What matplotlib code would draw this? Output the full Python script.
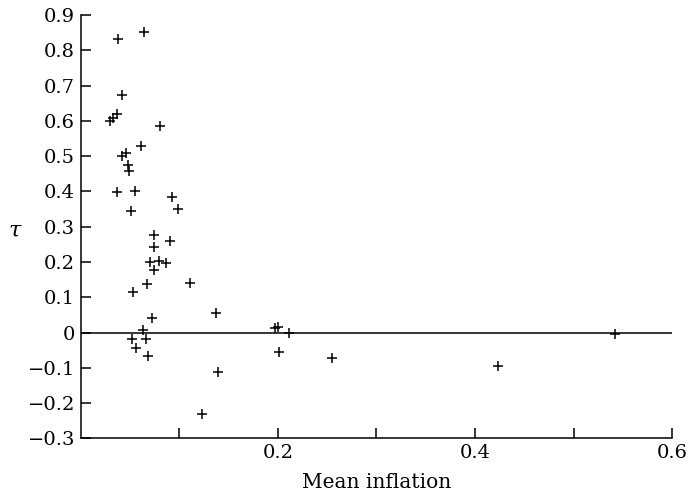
import matplotlib.pyplot as plt

plt.rcParams['font.family'] = ['DejaVu Serif']
plt.rcParams['mathtext.fontset'] = 'dejavuserif'

# mean inflation (x) and tau (y) for each observation
mean_inflation = [0.038, 0.064, 0.042, 0.037, 0.033, 0.030, 0.081, 0.061, 0.046,
                  0.042, 0.048, 0.049, 0.037, 0.055, 0.093, 0.099, 0.051, 0.074,
                  0.091, 0.074, 0.070, 0.080, 0.087, 0.074, 0.067, 0.053, 0.111,
                  0.072, 0.137, 0.063, 0.052, 0.066, 0.056, 0.068, 0.139, 0.123,
                  0.197, 0.200, 0.211, 0.201, 0.255, 0.423, 0.542]
tau = [0.831, 0.853, 0.673, 0.619, 0.607, 0.601, 0.586, 0.529, 0.510,
       0.501, 0.475, 0.458, 0.399, 0.402, 0.384, 0.351, 0.345, 0.276,
       0.261, 0.244, 0.201, 0.204, 0.198, 0.178, 0.138, 0.114, 0.140,
       0.042, 0.055, 0.006, -0.019, -0.017, -0.044, -0.066, -0.113, -0.231,
       0.014, 0.017, 0.000, -0.055, -0.072, -0.096, -0.005]

x_ticks = [0.1, 0.2, 0.3, 0.4, 0.5, 0.6]
x_labels = ['', '0.2', '', '0.4', '', '0.6']
y_ticks = [-0.3, -0.2, -0.1, 0, 0.1, 0.2, 0.3, 0.4, 0.5, 0.6, 0.7, 0.8, 0.9]
y_labels = ['\u22120.3', '\u22120.2', '\u22120.1', '0', '0.1', '0.2', '0.3',
            '0.4', '0.5', '0.6', '0.7', '0.8', '0.9']

fig = plt.figure(figsize=(6.9, 4.98), dpi=100)
ax = fig.add_axes([0.1168, 0.1195, 0.8575, 0.8504])

ax.axhline(0, color='black', lw=1.1, zorder=1)
ax.plot(mean_inflation, tau, '+', color='black', ms=7.5, mew=1.1, zorder=2)

ax.set_xlim(0, 0.6)
ax.set_ylim(-0.3, 0.9)
ax.set_xticks(x_ticks)
ax.set_xticklabels(x_labels)
ax.set_yticks(y_ticks)
ax.set_yticklabels(y_labels)

for side in ['top', 'right']:
    ax.spines[side].set_visible(False)
for side in ['left', 'bottom']:
    ax.spines[side].set_linewidth(1.1)

ax.tick_params(direction='in', length=7.5, width=1.1, labelsize=14, pad=4)

ax.set_xlabel('Mean inflation', fontsize=14.5, labelpad=8)
ax.set_ylabel(r'$\tau$', fontsize=16, rotation=0, va='center')
ax.yaxis.set_label_coords(-0.11, 0.49)

fig.savefig('out.png', dpi=100)
